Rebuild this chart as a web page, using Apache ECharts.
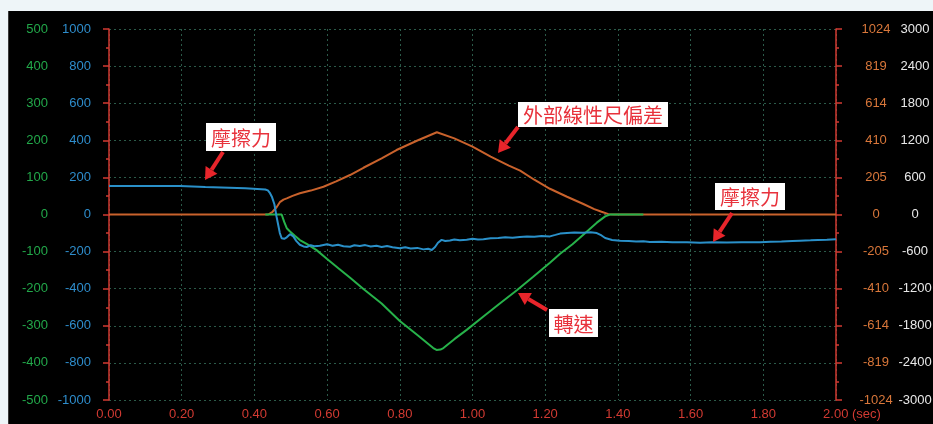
<!DOCTYPE html>
<html>
<head>
<meta charset="utf-8">
<script src="https://cdn.jsdelivr.net/npm/echarts@6/dist/echarts.min.js"></script>
<style>
html,body{margin:0;padding:0;background:#eef5f8;}
#chart{width:933px;height:424px;}
</style>
</head>
<body>
<div id="chart"></div>
<script>
// Friction (blue, left inner axis ±1000)
const frictionT = [0,0.195,0.2,0.265,0.27,0.375,0.38,0.43,0.437,0.443,0.448,0.455,0.461,0.47,0.475,0.482,0.489,0.498,0.507,0.515,0.525,0.535,0.544,0.555,0.565,0.58,0.6,0.615,0.63,0.645,0.663,0.675,0.69,0.705,0.72,0.736,0.75,0.765,0.78,0.8,0.815,0.83,0.848,0.865,0.878,0.888,0.897,0.905,0.915,0.925,0.938,0.95,0.965,0.984,1.0,1.015,1.03,1.05,1.071,1.09,1.11,1.13,1.15,1.17,1.19,1.213,1.228,1.241,1.26,1.28,1.304,1.325,1.342,1.355,1.365,1.384,1.406,1.43,1.45,1.47,1.488,1.52,1.55,1.59,1.626,1.66,1.7,1.74,1.791,1.82,1.85,1.88,1.901,1.93,1.95,1.975,2.0];
const frictionV = [154,154,148,148,142,141,136,135,130,115,96,55,-12,-100,-128,-131,-123,-106,-118,-142,-163,-172,-175,-166,-171,-168,-160,-168,-163,-171,-174,-166,-170,-165,-172,-168,-175,-170,-176,-182,-177,-183,-180,-188,-185,-191,-175,-152,-137,-143,-140,-135,-139,-136,-131,-135,-133,-128,-127,-123,-125,-121,-119,-120,-116,-118,-110,-103,-100,-97,-99,-96,-100,-113,-127,-137,-141,-143,-146,-144,-148,-147,-150,-149,-152,-150,-151,-149,-150,-147,-146,-143,-141,-139,-137,-136,-134];

// Speed (green, left outer axis ±500)
const speedT = [0.43,0.475,0.482,0.489,0.498,0.505,0.512,0.525,0.545,0.571,0.6,0.631,0.665,0.7,0.75,0.8,0.85,0.892,0.901,0.912,0.92,0.95,0.984,1.03,1.076,1.122,1.167,1.213,1.241,1.275,1.304,1.342,1.365,1.378,1.47];
const speedV = [0,0,-20,-37,-46,-52,-58,-69,-80,-96,-120,-145,-172,-201,-240,-287,-326,-360,-365,-364,-360,-336,-311,-275,-239,-204,-168,-130,-106,-80,-55,-22,-5,0,0];

// External linear scale deviation (brown, right inner axis ±1024)
const devT = [0,0.438,0.45,0.461,0.47,0.48,0.489,0.505,0.525,0.555,0.59,0.625,0.663,0.7,0.75,0.791,0.85,0.902,0.95,1.0,1.05,1.1,1.131,1.17,1.213,1.26,1.305,1.335,1.355,1.374,1.39,2.0];
const devV = [0,0,15,40,68,82,89,103,117,132,153,183,218,258,310,356,410,454,420,375,320,270,242,192,142,98,58,30,15,2,0,0];

// Axis ranges / tick labels
const xTicks = {min:0, max:2, interval:0.2, unit:'(sec)'};
const greenAxis = {min:-500, max:500, interval:100};
const blueAxis = {min:-1000, max:1000, interval:200};
const brownAxis = {min:-1024, max:1024, interval:204.8};
const whiteAxis = {min:-3000, max:3000, interval:600};

// Annotations
const labelTexts = ['摩擦力','外部線性尺偏差','摩擦力','轉速'];

const zip = (t,v) => t.map((x,i)=>[x,v[i]]);

const FONT = "'Liberation Sans Narrow','Liberation Sans',sans-serif";
const FS = 13;
const RED = '#d23a32';
const gridLine = {show:true, lineStyle:{color:'#2b5a49', type:[2,3], width:1}};

function arrow(x1,y1,x2,y2){
  const dx=x2-x1, dy=y2-y1, L=Math.hypot(dx,dy), ux=dx/L, uy=dy/L, hl=12, hw=7;
  const bx=x2-ux*hl, by=y2-uy*hl;
  return [
    {type:'line', z:100, shape:{x1:x1,y1:y1,x2:bx,y2:by}, style:{stroke:'#e8252b', lineWidth:4}},
    {type:'polygon', z:100, shape:{points:[[x2,y2],[bx+uy*hw,by-ux*hw],[bx-uy*hw,by+ux*hw]]}, style:{fill:'#e8252b'}}
  ];
}
function label(x,y,w,h,text){
  return [
    {type:'rect', z:100, shape:{x:x,y:y,width:w,height:h}, style:{fill:'#ffffff'}},
    {type:'text', z:101, style:{text:text, x:x+w/2, y:y+h/2+1, align:'center', verticalAlign:'middle', textAlign:'center', textVerticalAlign:'middle', fill:'#e8323c', font:"20px 'Noto Sans CJK TC'"}}
  ];
}

const graphics = [
  {type:'rect', z:50, shape:{x:0,y:0,width:933,height:11}, style:{fill:'#eef5f8'}},
  {type:'rect', z:50, shape:{x:0,y:0,width:8,height:424}, style:{fill:'#eef5f8'}},
  {type:'line', z:50, shape:{x1:8.5,y1:11,x2:8.5,y2:424}, style:{stroke:'#3a3a3a', lineWidth:1}},
  ...label(206,123,70,28,labelTexts[0]), ...arrow(223,152,205,180),
  ...label(518,102,150,25,labelTexts[1]), ...arrow(518,127,498,153),
  ...label(715,183,70,27,labelTexts[2]), ...arrow(732,213,713,242),
  ...label(549,309,49,28,labelTexts[3]), ...arrow(547,310,518,293)
];

const plain = v => String(Math.round(v));

const chart = echarts.init(document.getElementById('chart'));
chart.setOption({
  animation:false,
  backgroundColor:'#000000',
  grid:{left:109, right:97, top:29, bottom:24, containLabel:false, outerBoundsMode:'none'},
  xAxis:{
    type:'value', min:xTicks.min, max:xTicks.max, interval:xTicks.interval,
    axisLine:{show:false, onZero:false}, axisTick:{show:false},
    axisLabel:{color:RED, fontFamily:FONT, fontSize:FS, margin:8,
      formatter:v => Math.abs(v-xTicks.max)<1e-9 ? '{p|}' + v.toFixed(2) + ' ' + xTicks.unit : v.toFixed(2),
      rich:{p:{width:32}}},
    splitLine:gridLine
  },
  yAxis:[
    {type:'value', position:'left', offset:0, min:blueAxis.min, max:blueAxis.max, interval:blueAxis.interval,
     axisLine:{show:true, onZero:false, lineStyle:{color:RED, width:1.5}},
     axisTick:{show:true, length:6, lineStyle:{color:RED, width:1.5}},
     minorTick:{show:true, splitNumber:2, length:3, lineStyle:{color:RED, width:1.5}},
     axisLabel:{color:'#2e8dcc', fontFamily:FONT, fontSize:FS, margin:18, formatter:plain},
     splitLine:gridLine},
    {type:'value', position:'left', offset:43, min:greenAxis.min, max:greenAxis.max, interval:greenAxis.interval,
     axisLine:{show:false}, axisTick:{show:false}, splitLine:{show:false},
     axisLabel:{color:'#22a84a', fontFamily:FONT, fontSize:FS, margin:18, formatter:plain}},
    {type:'value', position:'right', offset:0, min:brownAxis.min, max:brownAxis.max, interval:brownAxis.interval,
     axisLine:{show:true, onZero:false, lineStyle:{color:RED, width:1.5}},
     axisTick:{show:true, length:6, lineStyle:{color:RED, width:1.5}},
     minorTick:{show:true, splitNumber:2, length:3, lineStyle:{color:RED, width:1.5}},
     axisLabel:{color:'#d9773a', fontFamily:FONT, fontSize:FS, margin:40, align:'center', formatter:plain},
     splitLine:{show:false}},
    {type:'value', position:'right', offset:40, min:whiteAxis.min, max:whiteAxis.max, interval:whiteAxis.interval,
     axisLine:{show:false}, axisTick:{show:false}, splitLine:{show:false},
     axisLabel:{color:'#e8e8e8', fontFamily:FONT, fontSize:FS, margin:39, align:'center', formatter:plain}}
  ],
  series:[
    {type:'line', name:'外部線性尺偏差', yAxisIndex:2, data:zip(devT,devV), showSymbol:false, z:2,
     lineStyle:{color:'#c9622c', width:2}, itemStyle:{color:'#c9622c'}},
    {type:'line', name:'轉速', yAxisIndex:1, data:zip(speedT,speedV), showSymbol:false, z:3,
     lineStyle:{color:'#27b24a', width:2}, itemStyle:{color:'#27b24a'}},
    {type:'line', name:'摩擦力', yAxisIndex:0, data:zip(frictionT,frictionV), showSymbol:false, z:4,
     lineStyle:{color:'#2a90c9', width:2}, itemStyle:{color:'#2a90c9'}}
  ],
  graphic:graphics
});
</script>
</body>
</html>
